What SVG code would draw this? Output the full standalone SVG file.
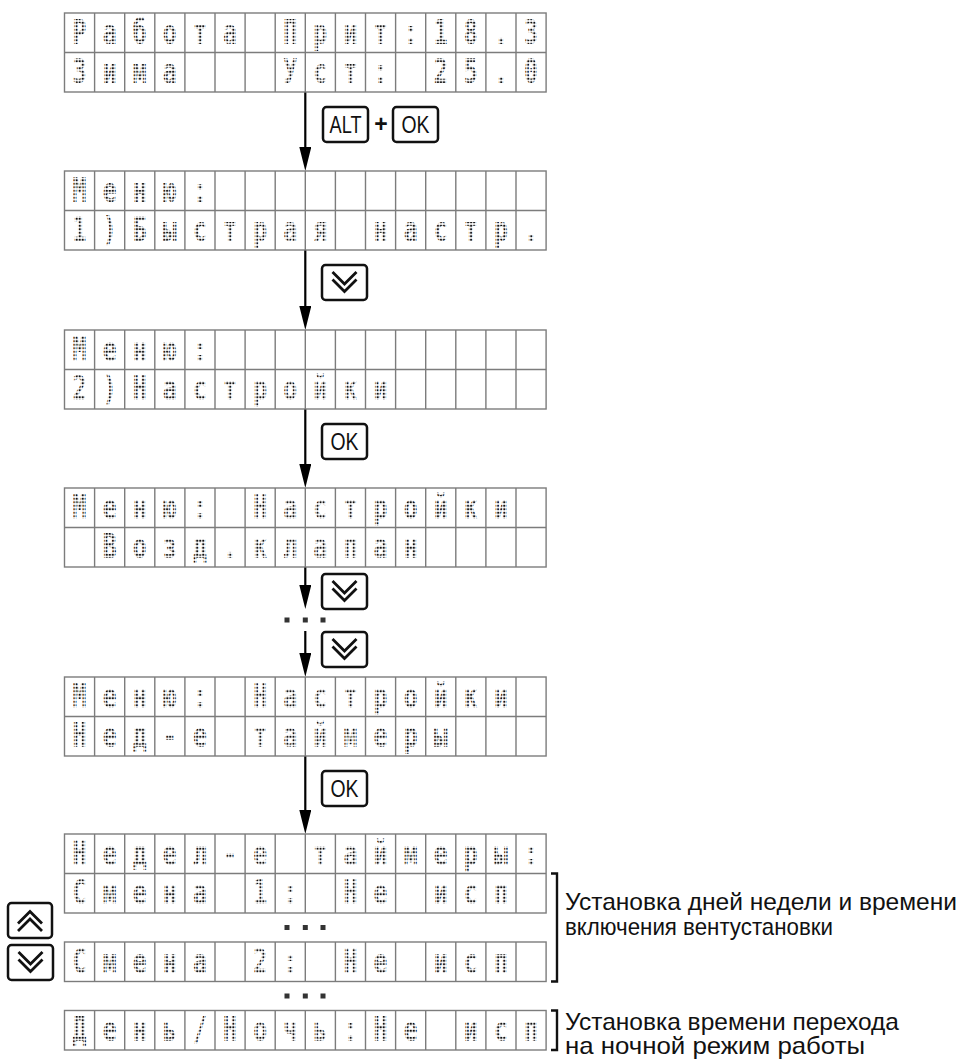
<svg xmlns="http://www.w3.org/2000/svg" width="964" height="1059" viewBox="0 0 964 1059">
<style>
.lcd{font-family:"DejaVu Sans Mono","Liberation Mono",monospace;font-size:33px;font-weight:bold;fill:url(#dots);text-anchor:middle}
.lcdg{opacity:0.99}
.key{fill:#fff;stroke:#111;stroke-width:2.5}
.kt{font-family:"Liberation Sans Narrow","Liberation Sans",Arial,sans-serif;font-size:23px;fill:#111;text-anchor:middle}
.chev{fill:none;stroke:#111;stroke-width:2.8}
.conn{stroke:#000;stroke-width:2.2;fill:none}
.lbl{font-family:"Liberation Sans",Arial,sans-serif;font-size:24px;fill:#111}
.br{fill:none;stroke:#111;stroke-width:2.4}
.dot{fill:#333}
.gl{fill:none;stroke:#7c7c7c;stroke-width:1.4}
.bg{fill:#fff}
</style>
<defs>
<pattern id="dots" patternUnits="userSpaceOnUse" width="4.3" height="3.5"><ellipse cx="2.15" cy="1.75" rx="1.6" ry="1.15" fill="#111"/></pattern>
<g id="grid2"><rect class="bg" x="0" y="0" width="481.6" height="79"/><path class="gl" d="M30.1 0V79M60.2 0V79M90.3 0V79M120.4 0V79M150.5 0V79M180.6 0V79M210.7 0V79M240.8 0V79M270.9 0V79M301 0V79M331.1 0V79M361.2 0V79M391.3 0V79M421.4 0V79M451.5 0V79M0 39.5H481.6"/><rect class="gl" x="0" y="0" width="481.6" height="79"/></g>
<g id="grid1"><rect class="bg" x="0" y="0" width="481.6" height="39.5"/><path class="gl" d="M30.1 0V39.5M60.2 0V39.5M90.3 0V39.5M120.4 0V39.5M150.5 0V39.5M180.6 0V39.5M210.7 0V39.5M240.8 0V39.5M270.9 0V39.5M301 0V39.5M331.1 0V39.5M361.2 0V39.5M391.3 0V39.5M421.4 0V39.5M451.5 0V39.5"/><rect class="gl" x="0" y="0" width="481.6" height="39.5"/></g>
<g id="kdown"><rect class="key" x="0" y="0" width="45" height="35" rx="3.5"/><path class="chev" d="M10.5 7L22.5 19L34.5 7M10.5 14.5L22.5 26.5L34.5 14.5"/></g>
<g id="kup"><rect class="key" x="0" y="0" width="44" height="35" rx="3.5"/><path class="chev" d="M10 28L22 16L34 28M10 20.5L22 8.5L34 20.5"/></g>
<g id="kok"><rect class="key" x="0" y="0" width="45" height="35" rx="3.5"/><text class="kt" x="22.5" y="25.5" textLength="28" lengthAdjust="spacingAndGlyphs">OK</text></g>
<marker id="ah" viewBox="0 0 24 12" refX="14" refY="6" markerWidth="24" markerHeight="12" markerUnits="userSpaceOnUse" orient="auto"><path d="M0 0L24 6L0 12z" fill="#000"/></marker>
</defs>

<g id="connectors">
<path class="conn" d="M305.3 92V161" marker-end="url(#ah)"/>
<path class="conn" d="M305.3 250V320" marker-end="url(#ah)"/>
<path class="conn" d="M305.3 409V478" marker-end="url(#ah)"/>
<path class="conn" d="M305.3 567V599" marker-end="url(#ah)"/>
<path class="conn" d="M305.3 631V667" marker-end="url(#ah)"/>
<path class="conn" d="M305.3 756V824" marker-end="url(#ah)"/>
</g>

<g id="screen1">
<use href="#grid2" x="64.5" y="13"/>
<g class="lcdg" transform="scale(0.7 1)">
<text class="lcd" x="113.6 156.6 199.6 242.6 285.6 328.6" y="44">Работа</text>
<text class="lcd" x="414.6 457.6 500.6 543.6 586.6 629.6 672.6 715.6 758.6" y="44">Прит:18.3</text>
<text class="lcd" x="113.6 156.6 199.6 242.6" y="83.5">Зима</text>
<text class="lcd" x="414.6 457.6 500.6 543.6" y="83.5">Уст:</text>
<text class="lcd" x="629.6 672.6 715.6 758.6" y="83.5">25.0</text>
</g>
</g>

<g id="key-alt-ok">
<rect class="key" x="323" y="107" width="45" height="35" rx="3.5"/>
<text class="kt" x="345.5" y="132.5" textLength="32" lengthAdjust="spacingAndGlyphs">ALT</text>
<text class="kt" x="381" y="132" style="font-weight:bold">+</text>
<use href="#kok" x="393" y="107"/>
</g>

<g id="screen2">
<use href="#grid2" x="64.5" y="171"/>
<g class="lcdg" transform="scale(0.7 1)">
<text class="lcd" x="113.6 156.6 199.6 242.6 285.6" y="202">Меню:</text>
<text class="lcd" x="113.6 156.6 199.6 242.6 285.6 328.6 371.6 414.6 457.6" y="241.5">1)Быстрая</text>
<text class="lcd" x="543.6 586.6 629.6 672.6 715.6 758.6" y="241.5">настр.</text>
</g>
</g>

<g id="key-down1"><use href="#kdown" x="322" y="265"/></g>

<g id="screen3">
<use href="#grid2" x="64.5" y="330"/>
<g class="lcdg" transform="scale(0.7 1)">
<text class="lcd" x="113.6 156.6 199.6 242.6 285.6" y="361">Меню:</text>
<text class="lcd" x="113.6 156.6 199.6 242.6 285.6 328.6 371.6 414.6 457.6 500.6 543.6" y="400.5">2)Настройки</text>
</g>
</g>

<g id="key-ok1"><use href="#kok" x="322" y="424"/></g>

<g id="screen4">
<use href="#grid2" x="64.5" y="488"/>
<g class="lcdg" transform="scale(0.7 1)">
<text class="lcd" x="113.6 156.6 199.6 242.6 285.6" y="519">Меню:</text>
<text class="lcd" x="371.6 414.6 457.6 500.6 543.6 586.6 629.6 672.6 715.6" y="519">Настройки</text>
<text class="lcd" x="156.6 199.6 242.6 285.6 328.6 371.6 414.6 457.6 500.6 543.6 586.6" y="558.5">Возд.клапан</text>
</g>
</g>

<g id="key-down2"><use href="#kdown" x="322" y="574"/></g>
<g id="ellipsis1"><rect class="dot" x="284.5" y="617.5" width="5" height="5"/><rect class="dot" x="302.8" y="617.5" width="5" height="5"/><rect class="dot" x="320.5" y="617.5" width="5" height="5"/></g>
<g id="key-down3"><use href="#kdown" x="322" y="632"/></g>

<g id="screen5">
<use href="#grid2" x="64.5" y="677"/>
<g class="lcdg" transform="scale(0.7 1)">
<text class="lcd" x="113.6 156.6 199.6 242.6 285.6" y="708">Меню:</text>
<text class="lcd" x="371.6 414.6 457.6 500.6 543.6 586.6 629.6 672.6 715.6" y="708">Настройки</text>
<text class="lcd" x="113.6 156.6 199.6 242.6 285.6" y="747.5">Нед-е</text>
<text class="lcd" x="371.6 414.6 457.6 500.6 543.6 586.6 629.6" y="747.5">таймеры</text>
</g>
</g>

<g id="key-ok2"><use href="#kok" x="322" y="771"/></g>

<g id="screen6">
<use href="#grid2" x="64.5" y="834"/>
<g class="lcdg" transform="scale(0.7 1)">
<text class="lcd" x="113.6 156.6 199.6 242.6 285.6 328.6 371.6" y="865">Недел-е</text>
<text class="lcd" x="457.6 500.6 543.6 586.6 629.6 672.6 715.6 758.6" y="865">таймеры:</text>
<text class="lcd" x="113.6 156.6 199.6 242.6 285.6" y="904.5">Смена</text>
<text class="lcd" x="371.6 414.6" y="904.5">1:</text>
<text class="lcd" x="500.6 543.6" y="904.5">Не</text>
<text class="lcd" x="629.6 672.6 715.6" y="904.5">исп</text>
</g>
</g>

<g id="ellipsis2"><rect class="dot" x="284.5" y="925" width="5" height="5"/><rect class="dot" x="302.8" y="925" width="5" height="5"/><rect class="dot" x="320.5" y="925" width="5" height="5"/></g>

<g id="screen7">
<use href="#grid1" x="64.5" y="942"/>
<g class="lcdg" transform="scale(0.7 1)">
<text class="lcd" x="113.6 156.6 199.6 242.6 285.6" y="973">Смена</text>
<text class="lcd" x="371.6 414.6" y="973">2:</text>
<text class="lcd" x="500.6 543.6" y="973">Не</text>
<text class="lcd" x="629.6 672.6 715.6" y="973">исп</text>
</g>
</g>

<g id="key-updown"><use href="#kup" x="8" y="903"/><use href="#kdown" x="8" y="945"/></g>

<g id="ellipsis3"><rect class="dot" x="284.5" y="993.5" width="5" height="5"/><rect class="dot" x="302.8" y="993.5" width="5" height="5"/><rect class="dot" x="320.5" y="993.5" width="5" height="5"/></g>

<g id="screen8">
<use href="#grid1" x="64.5" y="1010.5"/>
<g class="lcdg" transform="scale(0.7 1)">
<text class="lcd" x="113.6 156.6 199.6 242.6 285.6 328.6 371.6 414.6 457.6 500.6 543.6 586.6" y="1041.5">День/Ночь:Не</text>
<text class="lcd" x="672.6 715.6 758.6" y="1041.5">исп</text>
</g>
</g>

<g id="note1">
<path class="br" d="M551 873.5H557V981.5H551"/>
<text class="lbl" x="565" y="910" textLength="392" lengthAdjust="spacingAndGlyphs">Установка дней недели и времени</text>
<text class="lbl" x="565" y="934.5" textLength="268" lengthAdjust="spacingAndGlyphs">включения вентустановки</text>
</g>
<g id="note2">
<path class="br" d="M551 1010.5H557V1050H551"/>
<text class="lbl" x="565" y="1029.5" textLength="334" lengthAdjust="spacingAndGlyphs">Установка времени перехода</text>
<text class="lbl" x="565" y="1054" textLength="300" lengthAdjust="spacingAndGlyphs">на ночной режим работы</text>
</g>
</svg>
